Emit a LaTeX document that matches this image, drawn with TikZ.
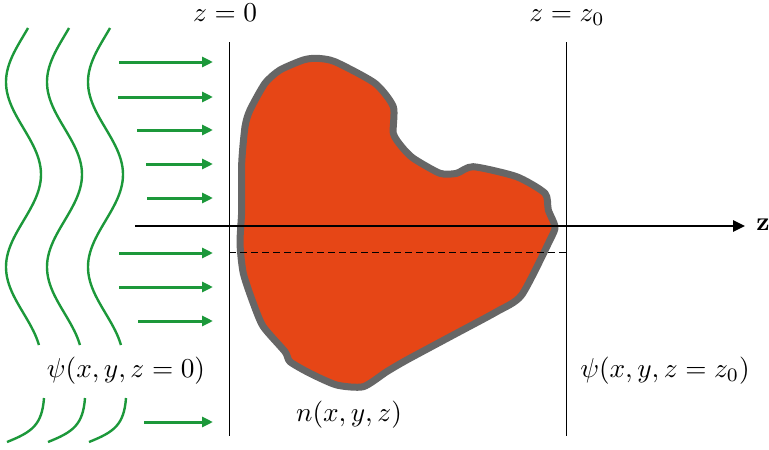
\documentclass[tikz,border=0pt]{standalone}
\usetikzlibrary{arrows.meta}
\definecolor{wavegreen}{RGB}{28,152,58}
\definecolor{blobfill}{RGB}{230,70,22}
\definecolor{blobedge}{RGB}{102,102,102}
\tikzset{
  wave/.style={draw=wavegreen, line width=2.4pt},
  ray/.style={draw=wavegreen, line width=3pt, -{Triangle[length=11pt,width=10pt]}},
  thinline/.style={draw=black, line width=0.9pt},
  lbl/.style={inner sep=0pt, scale=2.73},
}
\begin{document}
\begin{tikzpicture}[x=1pt,y=-1pt]
\useasboundingbox (0,0) rectangle (769,450);
% waves
\foreach \o in {0,41,82} {
  \draw[wave] plot[domain=28:345, samples=90, smooth] ({\o+23.5-17.5*cos((\x-82)/185*360)}, \x);
  \draw[wave] (\o+44,398) .. controls (\o+42,425) and (\o+32,432) .. (\o+7,442);
}
% rays
\foreach \s/\y in {119/62, 118/97, 137/130, 146/164, 147/198, 119/253, 119/287, 138/321, 144/422} {
  \coordinate (rs\y) at (\s,\y);
  \coordinate (re\y) at (213,\y);
  \draw[ray] (rs\y) -- (re\y);
}
% blob
\filldraw[fill=blobfill, draw=blobedge, line width=7pt, line join=round]
  plot[smooth cycle, tension=0.4] coordinates {
  (316.7,58.3) (335,61.7) (375,83.3) (393.3,106.7) (393.3,133.3) (401.7,146.7)
  (413.3,158.3) (440,173.3) (456.7,173.3) (473.3,166.7) (516.7,176.7) (545,193.3)
  (548.3,210) (555,226.7) (550,240) (521.7,295) (496.7,311.7) (453.3,335)
  (406.7,360) (386.7,371.7) (363.3,386.7) (336.7,385) (310,373.3) (290,361.7)
  (285,351.7) (263.3,326.7) (253.3,303.3) (243.3,273.3) (240,243.3) (241.7,210)
  (241.7,163.3) (245,126.7) (250,110) (265,83.3) (280,70) (303.3,60)};
% planes
\coordinate (p0t) at (229,42); \coordinate (p0b) at (229,436);
\coordinate (p1t) at (566,42); \coordinate (p1b) at (566,436);
\draw[thinline] (p0t) -- (p0b);
\draw[thinline] (p1t) -- (p1b);
% dashed
\coordinate (d0) at (229,252); \coordinate (d1) at (566,252);
\draw[thinline, dash pattern=on 7pt off 4pt] (d0) -- (d1);
% axis
\coordinate (a0) at (135,226);
\node[inner sep=0pt, scale=2.6, font=\bfseries] (zl) at (763,225) {z};
\coordinate (a1) at (745,226);
\draw[line width=2.6pt, -{Triangle[length=12pt,width=11pt]}] (a0) -- (a1);
% labels
\node[lbl, anchor=base] (l0) at (225,21) {$z=0$};
\node[lbl, anchor=base] (l1) at (567,21) {$z=z_0$};
\node[lbl] (psi0) at (126,371) {$\psi(x,y,z=0)$};
\node[lbl] (psi1) at (665,371) {$\psi(x,y,z=z_0)$};
\node[lbl] (n) at (349,415) {$n(x,y,z)$};
\end{tikzpicture}
\end{document}
